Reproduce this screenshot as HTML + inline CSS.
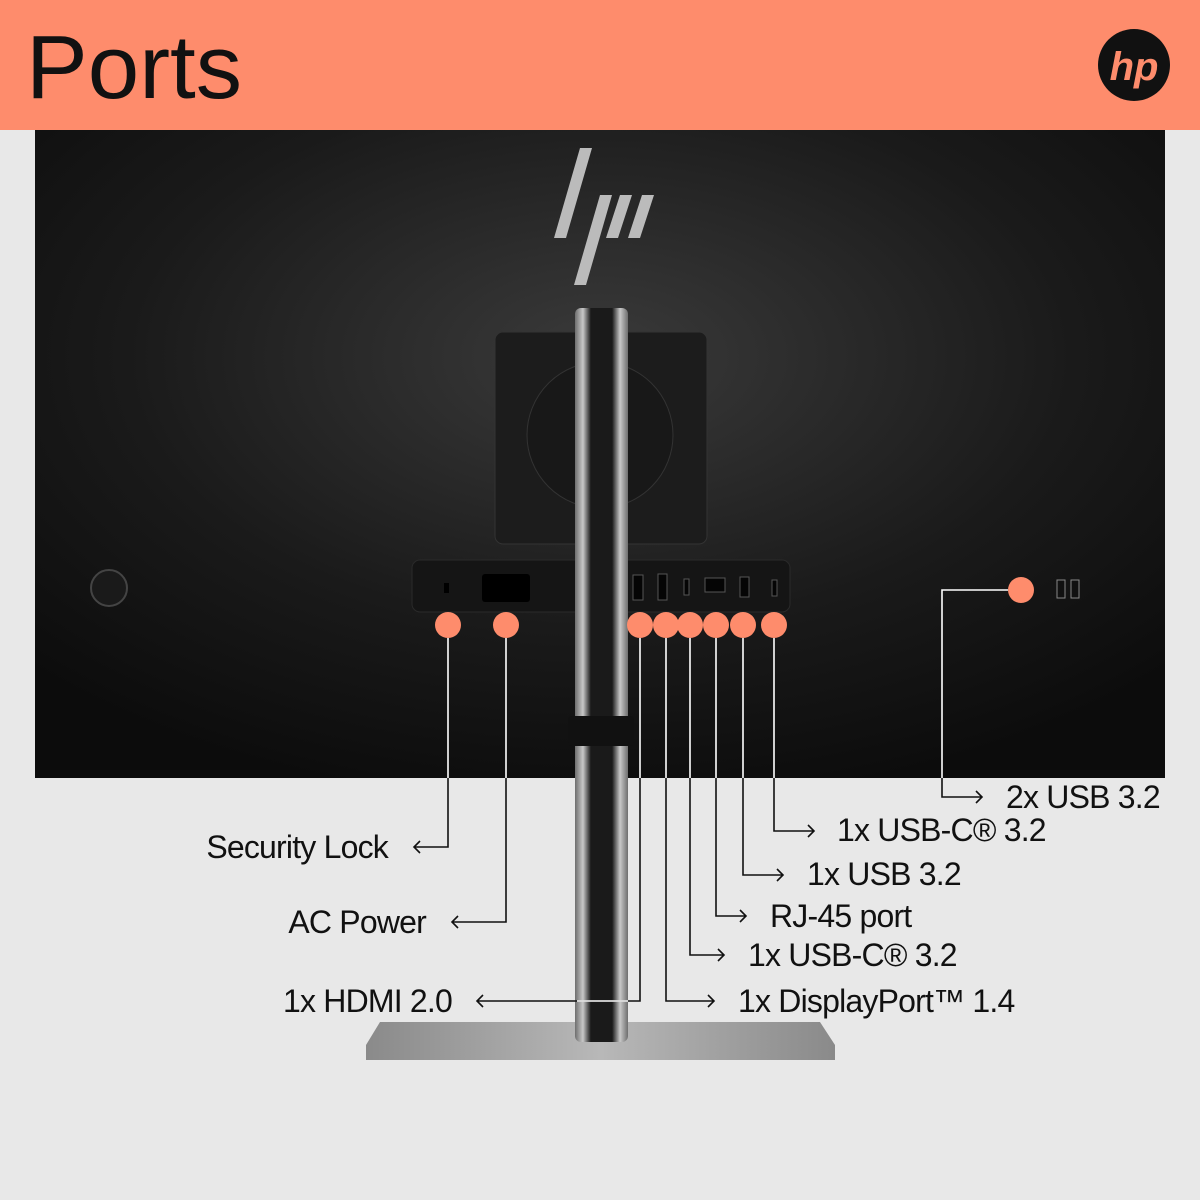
<!DOCTYPE html>
<html><head><style>body{margin:0}svg{display:block}</style></head><body>
<svg width="1200" height="1200" viewBox="0 0 1200 1200" xmlns="http://www.w3.org/2000/svg" font-family="Liberation Sans, sans-serif">
<defs>
<radialGradient id="mon" cx="0.5" cy="0.35" r="0.7">
<stop offset="0" stop-color="#3a3a3a"/><stop offset="0.6" stop-color="#1a1a1a"/><stop offset="1" stop-color="#0c0c0c"/></radialGradient>
<linearGradient id="col" x1="0" x2="1"><stop offset="0" stop-color="#6e6e6e"/><stop offset="0.15" stop-color="#c8c8c8"/><stop offset="0.3" stop-color="#1a1a1a"/><stop offset="0.7" stop-color="#1a1a1a"/><stop offset="0.85" stop-color="#c8c8c8"/><stop offset="1" stop-color="#6e6e6e"/></linearGradient>
<linearGradient id="base" x1="0" x2="1"><stop offset="0" stop-color="#8a8a8a"/><stop offset="0.5" stop-color="#b8b8b8"/><stop offset="1" stop-color="#8a8a8a"/></linearGradient>
<clipPath id="in"><rect x="35" y="130" width="1130" height="648"/></clipPath>
<clipPath id="out"><path d="M0 778H1200V1200H0Z"/></clipPath>
</defs>
<rect width="1200" height="1200" fill="#e8e8e8"/>
<rect width="1200" height="130" fill="#fe8c6c"/>
<text x="26" y="98" font-size="90" fill="#111" textLength="216" lengthAdjust="spacingAndGlyphs">Ports</text>
<circle cx="1134" cy="65" r="36" fill="#111"/>
<text x="1134" y="80" font-size="40" font-style="italic" font-weight="bold" fill="#fe8c6c" text-anchor="middle">hp</text>
<rect x="35" y="130" width="1130" height="648" fill="url(#mon)"/>
<g fill="#bbb"><polygon points="580,148 592,148 566,238 554,238"/><polygon points="600,195 612,195 586,285 574,285"/><polygon points="620,195 632,195 618,238 606,238"/><polygon points="642,195 654,195 640,238 628,238"/></g>
<rect x="495" y="332" width="212" height="212" rx="8" fill="#1c1c1c" stroke="#333"/>
<circle cx="600" cy="435" r="73" fill="#181818" stroke="#333"/>
<circle cx="109" cy="588" r="18" fill="#1a1a1a" stroke="#444" stroke-width="2"/>
<rect x="412" y="560" width="378" height="52" rx="8" fill="#151515" stroke="#2a2a2a"/>
<rect x="482" y="574" width="48" height="28" rx="3" fill="#000"/>
<rect x="444" y="583" width="5" height="10" fill="#000"/>
<g fill="#050505" stroke="#555" stroke-width="1"><rect x="633" y="575" width="10" height="25"/><rect x="658" y="574" width="9" height="26"/><rect x="684" y="579" width="5" height="16"/><rect x="705" y="578" width="20" height="14"/><rect x="740" y="577" width="9" height="20"/><rect x="772" y="580" width="5" height="16"/></g>
<polygon points="380,1022 820,1022 835,1045 835,1060 366,1060 366,1045" fill="url(#base)"/>
<rect x="575" y="308" width="53" height="734" rx="6" fill="url(#col)"/>
<rect x="568" y="716" width="66" height="30" rx="4" fill="#111"/>
<g fill="#fe8c6c"><circle cx="448" cy="625" r="13"/><circle cx="506" cy="625" r="13"/><circle cx="640" cy="625" r="13"/><circle cx="666" cy="625" r="13"/><circle cx="690" cy="625" r="13"/><circle cx="716" cy="625" r="13"/><circle cx="743" cy="625" r="13"/><circle cx="774" cy="625" r="13"/><circle cx="1021" cy="590" r="13"/></g>
<g id="L" fill="none" stroke-width="1.6">
<path d="M448 638V847H414M420 841L414 847L420 853"/>
<path d="M506 638V922H452M458 916L452 922L458 928"/>
<path d="M640 638V1001H477M483 995L477 1001L483 1007"/>
<path d="M666 638V1001H714M708 995L714 1001L708 1007"/>
<path d="M690 638V955H724M718 949L724 955L718 961"/>
<path d="M716 638V916H746M740 910L746 916L740 922"/>
<path d="M743 638V875H783M777 869L783 875L777 881"/>
<path d="M774 638V831H814M808 825L814 831L808 837"/>
<path d="M1008 590H942V797H982M976 791L982 797L976 803"/>
</g>
<use href="#L" stroke="#fff" clip-path="url(#in)"/>
<use href="#L" stroke="#111" clip-path="url(#out)"/>
<path d="M577 1001H628" stroke="#fff" stroke-width="1.6"/>
<g font-size="32" fill="#111" letter-spacing="-0.8">
<text x="388" y="858" text-anchor="end">Security Lock</text>
<text x="426" y="933" text-anchor="end">AC Power</text>
<text x="452" y="1012" text-anchor="end">1x HDMI 2.0</text>
<text x="738" y="1012">1x DisplayPort™ 1.4</text>
<text x="748" y="966">1x USB-C® 3.2</text>
<text x="770" y="927">RJ-45 port</text>
<text x="807" y="885">1x USB 3.2</text>
<text x="837" y="841">1x USB-C® 3.2</text>
<text x="1006" y="808">2x USB 3.2</text>
</g>
<g fill="#111" stroke="#888"><rect x="1057" y="580" width="8" height="18"/><rect x="1071" y="580" width="8" height="18"/></g>
</svg>
</body></html>
